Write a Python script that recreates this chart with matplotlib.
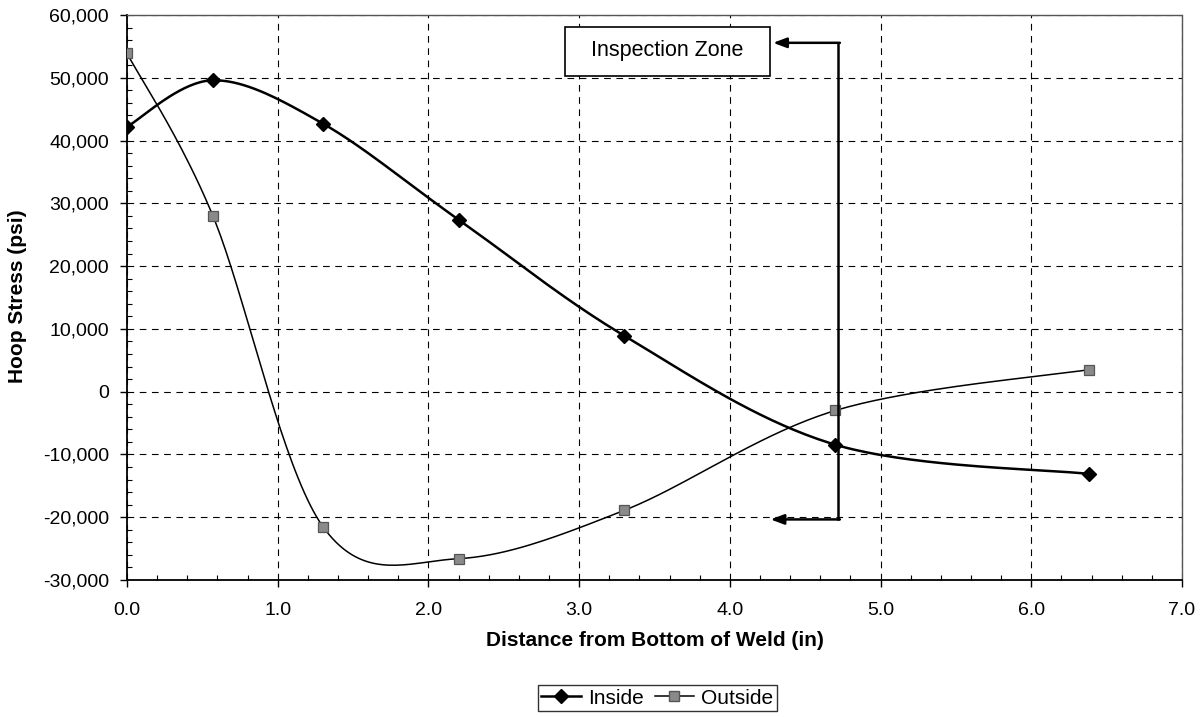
import numpy as np
import matplotlib
matplotlib.use("Agg")
import matplotlib.pyplot as plt
from matplotlib.ticker import MultipleLocator, FuncFormatter
from matplotlib.lines import Line2D
from matplotlib.patches import Rectangle

plt.rcParams['font.family'] = ['Liberation Sans', 'DejaVu Sans']

distance = [0.0, 0.57, 1.3, 2.2, 3.3, 4.7, 6.38]
inside = [42200, 49600, 42700, 27400, 8900, -8450, -13100]
outside = [53900, 28000, -21500, -26600, -18900, -3000, 3500]
series_names = ["Inside", "Outside"]
annot_text = "Inspection Zone"


def excel_smooth(xs, ys, n=40):
    """Excel-like smoothed line (Catmull-Rom style cubic Bezier)."""
    P = np.column_stack([xs, ys]).astype(float)
    out = [P[0]]
    m = len(P)
    for i in range(m - 1):
        p0 = P[i - 1] if i > 0 else P[i]
        p1 = P[i]
        p2 = P[i + 1]
        p3 = P[i + 2] if i + 2 < m else P[i + 1]
        c1 = p1 + (p2 - p0) / 6.0
        c2 = p2 - (p3 - p1) / 6.0
        t = np.linspace(0, 1, n)[1:, None]
        seg = ((1 - t) ** 3) * p1 + 3 * ((1 - t) ** 2) * t * c1 + 3 * (1 - t) * t ** 2 * c2 + t ** 3 * p2
        out.extend(seg)
    out = np.array(out)
    return out[:, 0], out[:, 1]


W, H = 1202, 717
fig = plt.figure(figsize=(W / 100, H / 100), dpi=100)
ax = fig.add_axes([127 / W, 1 - 580 / H, (1182 - 127) / W, (580 - 15) / H])

sx, sy = excel_smooth(distance, inside)
ax.plot(sx, sy, color='black', lw=1.8, zorder=4)
ax.plot(distance, inside, linestyle='none', marker='D', ms=7.5, color='black', zorder=5)

sx2, sy2 = excel_smooth(distance, outside)
ax.plot(sx2, sy2, color='black', lw=1.1, zorder=3)
ax.plot(distance, outside, linestyle='none', marker='s', ms=7, markerfacecolor='#8a8a8a',
        markeredgecolor='#555555', markeredgewidth=0.9, zorder=5)

ax.set_xlim(0, 7)
ax.set_ylim(-30000, 60000)
ax.xaxis.set_major_locator(MultipleLocator(1.0))
ax.xaxis.set_minor_locator(MultipleLocator(0.2))
ax.yaxis.set_major_locator(MultipleLocator(10000))
ax.yaxis.set_minor_locator(MultipleLocator(2000))
ax.xaxis.set_major_formatter(FuncFormatter(lambda v, p: f"{v:.1f}"))
ax.yaxis.set_major_formatter(FuncFormatter(lambda v, p: f"{int(round(v)):,}"))

ax.tick_params(axis='both', which='major', direction='out', length=5, width=1, labelsize=14, colors='black')
ax.tick_params(axis='y', which='major', pad=8)
ax.tick_params(axis='x', which='major', pad=11)
ax.tick_params(axis='both', which='minor', direction='in', length=3.5, width=0.8)

ax.grid(True, which='major', color='black', linestyle=(0, (6, 5)), linewidth=0.8)
ax.set_axisbelow(True)

for s in ['top', 'right']:
    ax.spines[s].set_linestyle((0, (1, 1)))
    ax.spines[s].set_color('#555555')
    ax.spines[s].set_linewidth(1.0)
for s in ['left', 'bottom']:
    ax.spines[s].set_color('black')
    ax.spines[s].set_linewidth(1.3)

fig.text(655 / W, 1 - 640 / H, "Distance from Bottom of Weld (in)", fontsize=15, fontweight='bold',
         ha='center', va='center')
fig.text(18 / W, 1 - 296 / H, "Hoop Stress (psi)", fontsize=15, fontweight='bold',
         ha='center', va='center', rotation=90)

# Inspection zone annotation
ax.add_patch(Rectangle((2.906, 50320), 4.267 - 2.906, 58120 - 50320, facecolor='white',
                       edgecolor='black', linewidth=1.2, zorder=7))
ax.text((2.906 + 4.267) / 2, 54300, annot_text, ha='center', va='center', fontsize=15.5, zorder=8)
ax.plot([4.72, 4.72], [55570, -20350], color='black', lw=1.8, zorder=6)
ax.annotate("", xy=(4.287, 55570), xytext=(4.73, 55570),
            arrowprops=dict(arrowstyle='-|>,head_length=0.8,head_width=0.3', color='black', lw=1.8,
                            shrinkA=0, shrinkB=0), zorder=6)
ax.annotate("", xy=(4.27, -20350), xytext=(4.73, -20350),
            arrowprops=dict(arrowstyle='-|>,head_length=0.8,head_width=0.3', color='black', lw=1.8,
                            shrinkA=0, shrinkB=0), zorder=6)

handles = [
    Line2D([], [], color='black', lw=1.8, marker='D', ms=7, label=series_names[0]),
    Line2D([], [], color='black', lw=1.1, marker='s', ms=6.5, markerfacecolor='#8a8a8a',
           markeredgecolor='#555555', label=series_names[1]),
]
leg = fig.legend(handles=handles, loc='center', bbox_to_anchor=(657.5 / W, 1 - 698 / H), ncol=2,
                 fontsize=15, frameon=True, fancybox=False, edgecolor='black',
                 handlelength=1.9, handletextpad=0.35, columnspacing=0.5, borderpad=0.15,
                 borderaxespad=0)
leg.get_frame().set_linewidth(1.0)

fig.savefig("out.png", dpi=100)
